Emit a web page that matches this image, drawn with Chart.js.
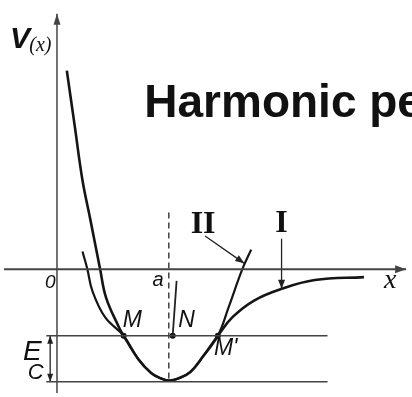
<!DOCTYPE html>
<html lang="en">
<head>
  <meta charset="UTF-8">
  <title>Potential curves</title>
  <script src="https://cdn.jsdelivr.net/npm/chart.js"></script>
  <style>
    html, body { margin: 0; padding: 0; background: #fff; }
    canvas { display: block; }
  </style>
</head>
<body>
  <canvas id="chart-1" width="412" height="397"></canvas>

  <script>
    // x in units of the equilibrium distance a, V in units of the well depth
    const curveIX = [0.088, 0.158, 0.228, 0.298, 0.386, 0.439, 0.553, 0.596, 0.728, 0.842, 0.930, 1.0, 1.088, 1.193, 1.307, 1.439, 1.570, 1.763, 2.009, 2.307, 2.746];
    const curveIV = [1.765, 1.278, 0.791, 0.443, 0, -0.252, -0.513, -0.591, -0.800, -0.922, -0.970, -0.99, -0.970, -0.913, -0.774, -0.591, -0.426, -0.278, -0.174, -0.096, -0.070];

    const curveIIX = [0.228, 0.272, 0.316, 0.430, 0.596, 0.728, 0.842, 0.930, 1.0, 1.088, 1.193, 1.307, 1.439, 1.535, 1.658, 1.737];
    const curveIIV = [0.157, 0, -0.191, -0.426, -0.591, -0.800, -0.922, -0.970, -0.99, -0.970, -0.913, -0.774, -0.591, -0.339, 0, 0.174];

    const levelE = -0.591;   // energy level through M, N, M'
    const levelMin = -1.0;   // bottom of the well
    const eqX = 1.0;         // a

    const pointNames = ['M', 'N', "M'"];
    const pointX = [0.596, 1.035, 1.439];

    const xMin = -0.474, xMax = 3.14;
    const vMin = -1.1, vMax = 2.357;

    // text labels: [text, x, V, font, align]
    const labels = [
      ['Harmonic perturbation', 0.781, 1.357, 'bold 46px "Liberation Sans", Arial, sans-serif', 'left'],
      ['V', -0.33, 2.043, 'italic bold 30px "Liberation Sans", sans-serif', 'center'],
      ['(x)', -0.149, 1.99, 'italic 20px "Liberation Serif", serif', 'center'],
      ['0', -0.061, -0.122, 'italic 19px "Liberation Sans", sans-serif', 'center'],
      ['a', 0.904, -0.104, 'italic 20px "Liberation Sans", sans-serif', 'center'],
      ['x', 2.982, -0.104, 'italic 28px "Liberation Serif", serif', 'center'],
      ['M', 0.675, -0.461, 'italic 23px "Liberation Sans", sans-serif', 'center'],
      ['N', 1.158, -0.461, 'italic 23px "Liberation Sans", sans-serif', 'center'],
      ["M'", 1.509, -0.704, 'italic 23px "Liberation Sans", sans-serif', 'center'],
      ['II', 1.307, 0.391, 'bold 32px "Liberation Serif", serif', 'center'],
      ['I', 2.009, 0.4, 'bold 32px "Liberation Serif", serif', 'center'],
      ['E', -0.22, -0.739, 'italic 28px "Liberation Sans", sans-serif', 'center'],
      ['C', -0.19, -0.925, 'italic 22px "Liberation Sans", sans-serif', 'center']
    ];

    const pts = (xs, vs) => xs.map((x, i) => ({ x: x, y: vs[i] }));

    function lineSet(data, extra) {
      return Object.assign({
        data: data,
        showLine: true,
        borderColor: '#333',
        borderWidth: 1.5,
        pointRadius: 0,
        fill: false
      }, extra || {});
    }

    // arrowheads at the ends of datasets flagged with `arrow`
    const arrowPlugin = {
      id: 'arrows',
      afterDatasetsDraw(chart) {
        const ctx = chart.ctx;
        const sx = chart.scales.x, sy = chart.scales.y;
        chart.data.datasets.forEach(ds => {
          if (!ds.arrow) return;
          const d = ds.data;
          const head = (a, b) => {
            const x1 = sx.getPixelForValue(a.x), y1 = sy.getPixelForValue(a.y);
            const x2 = sx.getPixelForValue(b.x), y2 = sy.getPixelForValue(b.y);
            const ang = Math.atan2(y2 - y1, x2 - x1);
            const len = ds.headLen || 9, w = ds.headWidth || 3.5;
            ctx.save();
            ctx.fillStyle = ds.borderColor;
            ctx.translate(x2, y2);
            ctx.rotate(ang);
            ctx.beginPath();
            ctx.moveTo(0, 0);
            ctx.lineTo(-len, -w);
            ctx.lineTo(-len, w);
            ctx.closePath();
            ctx.fill();
            ctx.restore();
          };
          head(d[d.length - 2], d[d.length - 1]);
          if (ds.arrow === 'both') head(d[1], d[0]);
        });
      }
    };

    const labelPlugin = {
      id: 'labels',
      afterDatasetsDraw(chart) {
        const ctx = chart.ctx;
        const sx = chart.scales.x, sy = chart.scales.y;
        ctx.save();
        ctx.fillStyle = '#111';
        labels.forEach(([text, x, v, font, align]) => {
          ctx.font = font;
          ctx.textAlign = align;
          ctx.textBaseline = align === 'left' ? 'alphabetic' : 'middle';
          ctx.fillText(text, sx.getPixelForValue(x), sy.getPixelForValue(v));
        });
        ctx.restore();
      }
    };

    const ctx = document.getElementById('chart-1');
    const chart = new Chart(ctx, {
      type: 'scatter',
      data: {
        datasets: [
          // axes
          lineSet([{ x: xMin, y: 0 }, { x: 3.123, y: 0 }], { borderColor: '#444', borderWidth: 2, arrow: 'end', headLen: 11, headWidth: 4 }),
          lineSet([{ x: 0, y: vMin }, { x: 0, y: 2.27 }], { borderColor: '#444', borderWidth: 1.5, arrow: 'end', headLen: 11, headWidth: 3.5 }),
          // energy levels
          lineSet([{ x: -0.096, y: levelE }, { x: 2.42, y: levelE }], { borderColor: '#444' }),
          lineSet([{ x: -0.096, y: levelMin }, { x: 2.42, y: levelMin }], { borderColor: '#444' }),
          // x = a
          lineSet([{ x: eqX, y: 0.504 }, { x: eqX, y: levelMin }], { borderColor: '#444', borderDash: [6, 4] }),
          // N marker line
          lineSet([{ x: 1.070, y: -0.104 }, { x: 1.035, y: levelE }], { borderColor: '#222', borderWidth: 1.8 }),
          // E_c span
          lineSet([{ x: -0.061, y: levelE }, { x: -0.061, y: levelMin }], { borderColor: '#222', borderWidth: 1.3, arrow: 'both', headLen: 8, headWidth: 3 }),
          // pointers to the curves
          lineSet([{ x: 1.325, y: 0.296 }, { x: 1.675, y: 0.052 }], { borderColor: '#222', borderWidth: 1.3, arrow: 'end', headLen: 9, headWidth: 3.5 }),
          lineSet([{ x: 2.009, y: 0.27 }, { x: 2.009, y: -0.174 }], { borderColor: '#222', borderWidth: 1.3, arrow: 'end', headLen: 9, headWidth: 3.5 }),
          // curve I (real potential) and curve II (harmonic)
          lineSet(pts(curveIX, curveIV), { borderColor: '#151515', borderWidth: 2.6, tension: 0.4 }),
          lineSet(pts(curveIIX, curveIIV), { borderColor: '#151515', borderWidth: 2.2, tension: 0.4 }),
          // M, N, M'
          {
            data: pointX.map(x => ({ x: x, y: levelE })),
            pointRadius: 3,
            pointBackgroundColor: '#111',
            pointBorderWidth: 0,
            showLine: false
          }
        ]
      },
      options: {
        responsive: false,
        animation: false,
        events: [],
        layout: { padding: 0 },
        plugins: { legend: { display: false }, tooltip: { enabled: false } },
        scales: {
          x: { type: 'linear', display: false, min: xMin, max: xMax },
          y: { type: 'linear', display: false, min: vMin, max: vMax }
        }
      },
      plugins: [arrowPlugin, labelPlugin]
    });
  </script>
</body>
</html>
